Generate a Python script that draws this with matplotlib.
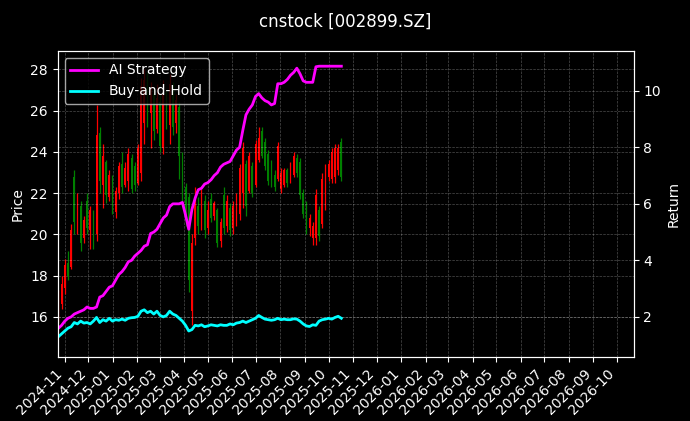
import matplotlib
matplotlib.use('Agg')
import matplotlib.pyplot as plt
import matplotlib.dates as mdates
import pandas as pd
import numpy as np

plt.style.use('dark_background')

opens = [15.9, 16.6, 17.4, 18.6, 18.4, 22.8, 20.4, 21.4, 19.8, 21.6,
         20.2, 21.0, 20.0, 24.9, 22.4, 23.5, 21.8, 22.7, 21.1, 22.0,
         23.4, 22.4, 22.6, 23.7, 23.3, 22.5, 23.0, 25.4, 27.3, 25.9,
         26.8, 25.1, 26.4, 24.2, 26.7, 25.3, 27.0, 25.4, 26.2, 23.6,
         22.3, 21.8, 16.3, 19.8, 21.4, 20.5, 21.6, 20.3, 21.7, 20.9,
         21.2, 19.7, 21.9, 20.4, 21.3, 20.3, 20.6, 21.0, 22.0, 23.4,
         22.1, 23.3, 22.4, 23.6, 25.0, 24.5, 23.9, 23.4, 22.9, 22.7,
         22.2, 22.4, 23.1, 22.6, 22.9, 23.7, 23.5, 22.0, 21.4, 20.3,
         19.8, 19.8, 21.2, 20.5, 21.4, 22.8, 22.7, 22.8, 23.1, 24.5]
closes = [16.9, 17.6, 18.5, 18.0, 20.2, 20.6, 21.7, 19.6, 20.7, 20.3,
          21.2, 19.6, 24.8, 22.6, 23.8, 21.9, 22.9, 21.2, 22.1, 23.3,
          22.3, 23.2, 23.9, 22.2, 22.4, 24.2, 27.2, 27.5, 25.8, 27.0,
          25.0, 26.6, 24.3, 26.8, 25.4, 27.3, 25.2, 26.5, 23.8, 22.2,
          21.0, 17.8, 19.6, 21.6, 20.4, 21.8, 20.2, 21.2, 20.8, 21.5,
          19.6, 20.6, 20.3, 21.6, 20.2, 21.4, 21.8, 23.2, 24.2, 21.4,
          23.8, 22.0, 24.4, 24.7, 23.8, 23.3, 22.6, 22.4, 22.3, 24.3,
          23.0, 23.1, 22.5, 23.3, 23.8, 23.0, 21.9, 21.0, 20.2, 20.8,
          20.4, 21.9, 19.9, 22.7, 23.2, 23.4, 24.0, 24.2, 24.2, 22.8]
highs = [17.3, 18.0, 18.8, 19.2, 20.5, 23.1, 22.0, 21.6, 20.9, 22.0,
         21.4, 21.2, 26.3, 25.2, 24.4, 23.6, 23.1, 22.9, 22.3, 23.5,
         24.0, 23.5, 24.2, 23.9, 23.5, 24.4, 27.6, 28.0, 27.9, 27.4,
         27.1, 27.3, 26.8, 27.5, 27.0, 27.8, 27.4, 26.8, 26.4, 24.0,
         22.5, 22.0, 20.0, 22.3, 21.8, 22.2, 21.9, 21.6, 22.0, 21.6,
         21.3, 20.8, 22.3, 21.9, 21.5, 21.6, 22.0, 23.4, 24.5, 23.6,
         24.0, 23.5, 24.6, 25.2, 25.2, 24.7, 24.1, 23.6, 23.1, 24.5,
         23.2, 23.2, 23.2, 23.5, 24.0, 23.9, 23.7, 22.2, 21.6, 21.0,
         20.6, 22.2, 21.4, 23.0, 23.4, 23.6, 24.2, 24.4, 24.4, 24.7]
lows = [15.7, 16.4, 17.1, 17.8, 18.3, 20.0, 20.0, 19.2, 19.6, 20.0,
        19.3, 19.3, 19.7, 22.0, 21.3, 21.5, 21.6, 21.0, 20.8, 21.7,
        22.0, 22.3, 22.1, 22.0, 22.1, 22.4, 22.6, 24.4, 25.2, 24.2,
        24.6, 24.9, 24.0, 23.9, 25.1, 24.4, 24.8, 24.9, 22.7, 21.6,
        20.4, 17.2, 15.6, 19.5, 20.0, 20.2, 19.8, 20.0, 20.6, 20.7,
        19.4, 19.4, 20.0, 20.1, 19.9, 20.0, 20.4, 20.7, 21.3, 20.9,
        22.0, 21.8, 22.3, 23.5, 23.7, 23.1, 22.4, 22.3, 22.1, 22.6,
        22.0, 22.3, 22.3, 22.5, 22.8, 22.8, 21.7, 20.8, 20.0, 19.9,
        19.5, 19.5, 19.7, 20.3, 21.2, 22.6, 22.5, 22.5, 22.9, 22.6]

ai_strategy = [1.60, 1.70, 1.85, 1.95, 2.00, 2.10, 2.15, 2.20, 2.25, 2.35,
               2.30, 2.30, 2.35, 2.70, 2.75, 2.90, 3.05, 3.10, 3.30, 3.50,
               3.60, 3.75, 3.95, 4.00, 4.15, 4.25, 4.35, 4.50, 4.55, 4.95,
               5.00, 5.10, 5.30, 5.50, 5.60, 5.90, 6.00, 6.00, 6.00, 6.05,
               5.60, 5.10, 5.80, 6.20, 6.50, 6.55, 6.70, 6.75, 6.85, 7.00,
               7.10, 7.30, 7.40, 7.45, 7.50, 7.70, 7.90, 8.00, 8.60, 9.15,
               9.35, 9.50, 9.80, 9.90, 9.75, 9.65, 9.60, 9.50, 9.55, 10.25,
               10.25, 10.30, 10.40, 10.55, 10.65, 10.80, 10.60, 10.35, 10.30, 10.30,
               10.30, 10.85, 10.87, 10.87, 10.87, 10.87, 10.87, 10.87, 10.87, 10.87]
buy_hold = [1.30, 1.40, 1.50, 1.60, 1.65, 1.80, 1.75, 1.85, 1.78, 1.80,
            1.75, 1.85, 1.98, 1.80, 1.90, 1.85, 1.95, 1.85, 1.90, 1.88,
            1.92, 1.88, 1.95, 1.97, 1.98, 2.02, 2.20, 2.25, 2.15, 2.20,
            2.10, 2.20, 2.05, 2.00, 2.05, 2.20, 2.10, 2.05, 1.95, 1.85,
            1.70, 1.50, 1.55, 1.70, 1.68, 1.72, 1.65, 1.68, 1.72, 1.70,
            1.68, 1.72, 1.70, 1.70, 1.75, 1.72, 1.78, 1.80, 1.85, 1.80,
            1.85, 1.90, 1.95, 2.05, 1.98, 1.92, 1.90, 1.88, 1.90, 1.95,
            1.90, 1.92, 1.90, 1.90, 1.93, 1.92, 1.85, 1.75, 1.68, 1.66,
            1.72, 1.70, 1.85, 1.90, 1.92, 1.95, 1.92, 1.98, 2.02, 1.95]

dates = pd.date_range('2024-10-24', '2025-10-17', periods=len(closes))

fig = plt.figure(figsize=(6.9, 4.21), dpi=100)
ax = fig.add_axes([0.0835, 0.152, 0.835, 0.727])
fig.suptitle('cnstock [002899.SZ]', fontsize=12, y=0.97)

# candles (red = up, green = down)
x = mdates.date2num(dates)
o = np.array(opens); c = np.array(closes)
up = c >= o
cols = np.where(up, 'red', 'green')
ax.vlines(x, lows, highs, colors=cols, linewidth=0.9)
ax.bar(x, np.abs(c - o), bottom=np.minimum(o, c), width=2.2, color=cols, linewidth=0)
ax.set_ylabel('Price')
ax.set_ylim(14.05, 28.9)
ax.grid(True, linestyle='--', linewidth=0.5, alpha=0.3)

ax2 = ax.twinx()
ax2.plot(dates, ai_strategy, color='magenta', linewidth=2, label='AI Strategy')
ax2.plot(dates, buy_hold, color='cyan', linewidth=2, label='Buy-and-Hold')
ax2.set_ylabel('Return')
ax2.set_ylim(0.58, 11.41)
ax2.grid(True, linestyle='--', linewidth=0.5, alpha=0.3)
ax2.legend(loc='upper left')

ax.set_xlim(pd.Timestamp('2024-10-23'), pd.Timestamp('2026-10-22'))
ax.xaxis.set_major_locator(mdates.MonthLocator())
ax.xaxis.set_major_formatter(mdates.DateFormatter('%Y-%m'))
plt.setp(ax.get_xticklabels(), rotation=45, ha='right')

fig.savefig('out.png', dpi=100)
